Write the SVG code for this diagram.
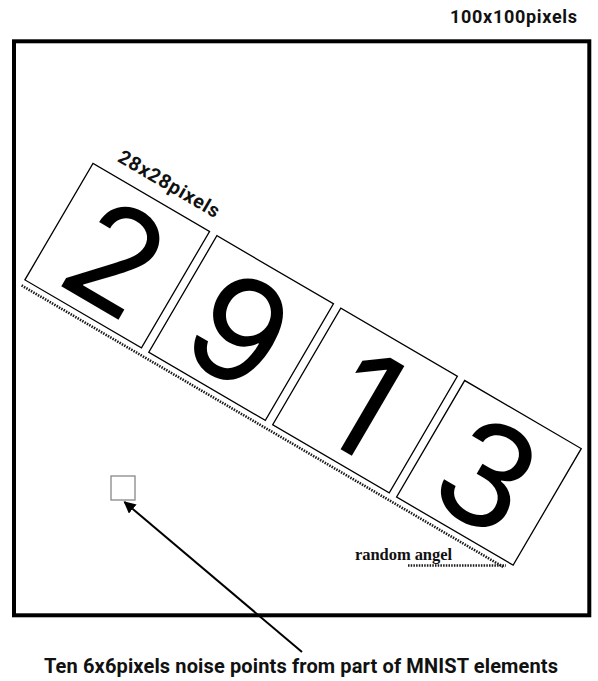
<svg xmlns="http://www.w3.org/2000/svg" width="598" height="681" viewBox="0 0 598 681">
<style>
.lbl{font-family:Roboto,"Liberation Sans",sans-serif;font-weight:bold;fill:#111}
.box{fill:#fff;stroke:#000;stroke-width:1.3}
.dig{font-family:Inter,"DejaVu Sans",sans-serif;font-weight:400;font-size:143px;fill:#000;text-anchor:middle}
.dot{fill:none;stroke:#1a1a1a;stroke-width:2.6;stroke-dasharray:1.5 1.2}
</style>
<defs>
<marker id="ah" viewBox="0 0 10 10" refX="9" refY="5" markerWidth="12" markerHeight="12" markerUnits="userSpaceOnUse" orient="auto">
<path d="M0,0 L10,5 L0,10 z" fill="#000"/>
</marker>
</defs>
<rect x="0" y="0" width="598" height="681" fill="#fff"/>
<g id="frame">
<rect x="14" y="41.3" width="575.3" height="574" fill="none" stroke="#000" stroke-width="4"/>
<text class="lbl" x="450" y="22.5" font-size="18" textLength="127">100x100pixels</text>
</g>
<g id="digits" transform="translate(93,163.3) rotate(30.3)">
<text class="lbl" x="19" y="-14" font-size="19.5" textLength="114">28x28pixels</text>
<g id="d2"><rect class="box" x="0" y="0" width="135" height="135"/><text class="dig" x="67.5" y="122">2</text></g>
<g id="d9"><rect class="box" x="143.5" y="0" width="135" height="135"/><text class="dig" x="211" y="122">9</text></g>
<g id="d1"><rect class="box" x="287" y="0" width="135" height="135"/><text class="dig" x="354.5" y="122">1</text></g>
<g id="d3"><rect class="box" x="430.5" y="0" width="135" height="135"/><text class="dig" x="498" y="122">3</text></g>
<line class="dot" x1="0" y1="141.5" x2="559" y2="141.5"/>
</g>
<g id="angle">
<line class="dot" x1="408" y1="565.5" x2="506" y2="565.5"/>
<text x="355" y="560" font-family="'Liberation Serif',serif" font-weight="bold" font-size="16.5" textLength="97" fill="#111">random angel</text>
</g>
<g id="noise">
<rect x="111" y="476" width="24" height="24" fill="#fff" stroke="#888" stroke-width="1.3"/>
</g>
<g id="connectors">
<line x1="302" y1="652" x2="124.5" y2="502" stroke="#000" stroke-width="2" marker-end="url(#ah)"/>
</g>
<g id="caption">
<text class="lbl" x="44" y="673" font-size="20" textLength="514">Ten 6x6pixels noise points from part of MNIST elements</text>
</g>
</svg>
